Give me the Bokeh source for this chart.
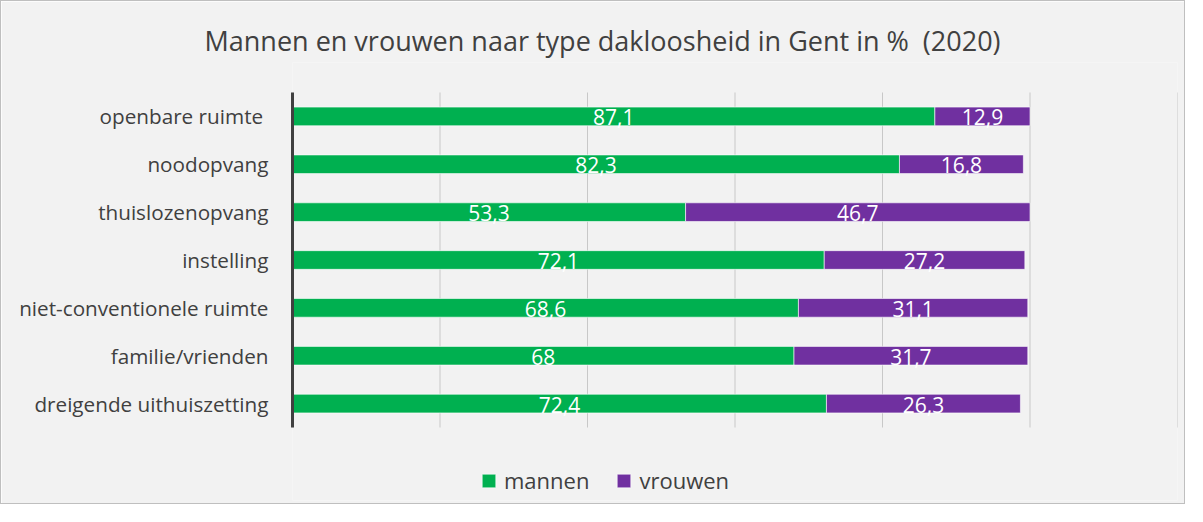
from bokeh.plotting import figure
from bokeh.models import ColumnDataSource, Range1d, Legend, LegendItem, LabelSet, Title, FixedTicker
from bokeh.embed import file_html
from bokeh.resources import INLINE
from bokeh.core.properties import value

categories = ["openbare ruimte ", "noodopvang", "thuislozenopvang", "instelling",
              "niet-conventionele ruimte", "familie/vrienden", "dreigende uithuiszetting"]
mannen = [87.1, 82.3, 53.3, 72.1, 68.6, 68.0, 72.4]
vrouwen = [12.9, 16.8, 46.7, 27.2, 31.1, 31.7, 26.3]
series_names = ["mannen", "vrouwen"]
colors = ["#00b050", "#7030a0"]
title_text = "Mannen en vrouwen naar type dakloosheid in Gent in %\u00a0 (2020)"
grid_ticks = [0, 20, 40, 60, 80, 100, 120]

def fmt(v):
    return f"{v:g}".replace(".", ",")

n = len(categories)
ypos = [n - 1 - i for i in range(n)]

src = ColumnDataSource(dict(
    y=ypos,
    m0=[0] * n, m1=mannen,
    v0=mannen, v1=[a + b for a, b in zip(mannen, vrouwen)],
    mmid=[m / 2 for m in mannen],
    vmid=[a + b / 2 for a, b in zip(mannen, vrouwen)],
    mlab=[fmt(v) for v in mannen],
    vlab=[fmt(v) for v in vrouwen],
))

FONT = "Open Sans"
band_lo, band_hi = -0.5, n - 0.5
p = figure(width=1185, height=504, x_range=Range1d(0, 120),
           y_range=Range1d(band_hi + 0.6268 - 9.152, band_hi + 0.6268),
           output_backend="svg", toolbar_location=None,
           min_border_left=291, min_border_right=9, min_border_top=61, min_border_bottom=5,
           background_fill_color="#f2f2f2", border_fill_color="#f2f2f2",
           outline_line_color=None, styles={"border": "1px solid #bfbfbf"})

# grid lines limited to the category band
p.segment(x0=grid_ticks, x1=grid_ticks, y0=[band_lo] * len(grid_ticks), y1=[band_hi] * len(grid_ticks),
          line_color="#c8c8c8", line_width=1)

r1 = p.hbar(y="y", left="m0", right="m1", height=0.39, source=src,
            fill_color=colors[0], line_color="white", line_alpha=0.6, line_width=1)
r2 = p.hbar(y="y", left="v0", right="v1", height=0.39, source=src,
            fill_color=colors[1], line_color="white", line_alpha=0.6, line_width=1)

for xcol, tcol in (("mmid", "mlab"), ("vmid", "vlab")):
    p.add_layout(LabelSet(x=xcol, y="y", text=tcol, source=src, text_align="center",
                          text_baseline="middle", text_color="white", text_font=value(FONT),
                          text_font_size="21px", y_offset=-1))

p.title = Title(text=title_text, align="left", offset=-88, text_font=FONT,
                text_font_size="27px", text_font_style="normal", text_color="#404040",
                vertical_align="bottom", standoff=8)

p.xgrid.grid_line_color = None
p.ygrid.grid_line_color = None
p.xaxis.visible = False

p.yaxis.ticker = FixedTicker(ticks=ypos)
p.yaxis.major_label_overrides = {y: c for y, c in zip(ypos, categories)}
p.yaxis.bounds = (band_lo, band_hi)
p.yaxis.axis_line_color = "#404040"
p.yaxis.axis_line_width = 3
p.yaxis.major_tick_line_color = None
p.yaxis.minor_tick_line_color = None
p.yaxis.major_label_standoff = 18
p.yaxis.major_label_text_font = FONT
p.yaxis.major_label_text_font_size = "20.7px"
p.yaxis.major_label_text_color = "#404040"

legend = Legend(items=[LegendItem(label=series_names[0], renderers=[r1]),
                       LegendItem(label=series_names[1], renderers=[r2])],
                orientation="horizontal", location=(188, 5),
                background_fill_alpha=0, border_line_color=None,
                label_text_font=FONT, label_text_font_size="22px", label_text_color="#404040",
                glyph_width=17, glyph_height=17, label_standoff=7, spacing=26, padding=5, margin=0)
p.add_layout(legend, "center")

open("out.html", "w").write(file_html(p, INLINE))
